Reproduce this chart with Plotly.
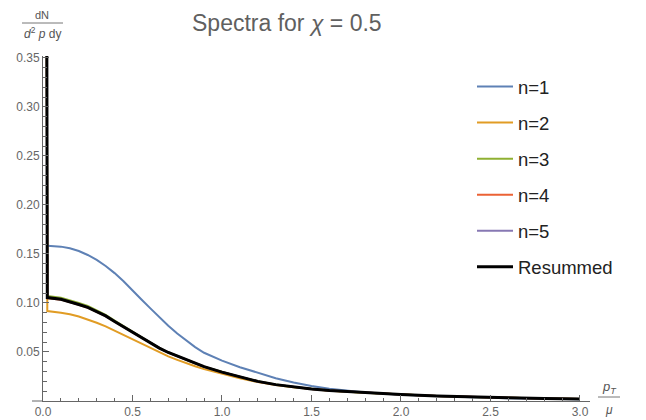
import plotly.graph_objects as go

# ---- data ----
pT = [0.02, 0.024, 0.1, 0.15, 0.2, 0.25, 0.3, 0.35, 0.4, 0.45, 0.5, 0.55, 0.6, 0.65,
      0.7, 0.75, 0.8, 0.85, 0.9, 1.0, 1.1, 1.2, 1.3, 1.4, 1.5, 1.6, 1.8, 2.0,
      2.2, 2.4, 2.6, 2.8, 3.0]

n1 = [None, 0.1585, 0.1575, 0.1558, 0.1530, 0.1490, 0.1440, 0.1378, 0.1305, 0.1222,
      0.1125, 0.1035, 0.0945, 0.0855, 0.0768, 0.0688, 0.0615, 0.0550, 0.0492, 0.0412,
      0.0345, 0.0285, 0.0232, 0.0188, 0.0152, 0.0125, 0.0088, 0.0064, 0.0048, 0.0037,
      0.0029, 0.0023, 0.0019]
n2 = [0.5, 0.0918, 0.0900, 0.0885, 0.0862, 0.0832, 0.0798, 0.0762, 0.0718, 0.0672,
      0.0630, 0.0585, 0.0540, 0.0495, 0.0455, 0.0420, 0.0385, 0.0354, 0.0325, 0.0275,
      0.0232, 0.0193, 0.0162, 0.0139, 0.0120, 0.0104, 0.0083, 0.0066, 0.0051, 0.0040,
      0.0032, 0.0026, 0.0021]
n3 = [0.5, 0.1072, 0.1053, 0.1030, 0.1000, 0.0969, 0.0927, 0.0878, 0.0820, 0.0763,
      0.0704, 0.0651, 0.0594, 0.0541, 0.0496, 0.0457, 0.0421, 0.0385, 0.0351, 0.0296,
      0.0246, 0.0201, 0.0168, 0.0144, 0.0124, 0.0107, 0.0085, 0.0067, 0.0052, 0.0040,
      0.0032, 0.0026, 0.0021]
n4 = [0.5, 0.1050, 0.1034, 0.1011, 0.0982, 0.0952, 0.0912, 0.0865, 0.0810, 0.0755,
      0.0698, 0.0646, 0.0591, 0.0539, 0.0494, 0.0456, 0.0419, 0.0384, 0.0349, 0.0294,
      0.0245, 0.0200, 0.0167, 0.0143, 0.0123, 0.0106, 0.0085, 0.0067, 0.0052, 0.0040,
      0.0032, 0.0026, 0.0021]
n5 = [0.5, 0.1056, 0.1038, 0.1015, 0.0985, 0.0955, 0.0915, 0.0868, 0.0812, 0.0757,
      0.0700, 0.0648, 0.0592, 0.0540, 0.0495, 0.0457, 0.0420, 0.0385, 0.0350, 0.0295,
      0.0245, 0.0200, 0.0167, 0.0143, 0.0123, 0.0106, 0.0085, 0.0067, 0.0052, 0.0040,
      0.0032, 0.0026, 0.0021]
resummed = [0.5, 0.1055, 0.1038, 0.1015, 0.0985, 0.0955, 0.0915, 0.0868, 0.0812, 0.0757,
            0.0700, 0.0648, 0.0592, 0.0540, 0.0495, 0.0457, 0.0420, 0.0385, 0.0350, 0.0295,
            0.0245, 0.0200, 0.0167, 0.0143, 0.0123, 0.0106, 0.0085, 0.0067, 0.0052, 0.0040,
            0.0032, 0.0026, 0.0021]

names = ["n=1", "n=2", "n=3", "n=4", "n=5", "Resummed"]
series = [n1, n2, n3, n4, n5, resummed]
colors = ["#5E81B5", "#E19C24", "#8FB032", "#EB6235", "#8778B3", "#000000"]
widths = [2.0, 2.0, 2.0, 2.0, 2.0, 3.0]

x_ticks = [0.0, 0.5, 1.0, 1.5, 2.0, 2.5, 3.0]
x_ticklabels = ["0.0", "0.5", "1.0", "1.5", "2.0", "2.5", "3.0"]
y_ticks = [0.05, 0.10, 0.15, 0.20, 0.25, 0.30, 0.35]
y_ticklabels = ["0.05", "0.10", "0.15", "0.20", "0.25", "0.30", "0.35"]

fig = go.Figure()
for i, (nm, ys, c, w) in enumerate(zip(names, series, colors, widths)):
    fig.add_trace(go.Scatter(x=pT, y=ys, mode="lines", name=nm,
                             line=dict(color=c, width=w, shape="linear"),
                             legendgroup="g%d" % i))

gray = "#666666"
L, R, T, B = 43, 590, 56, 401
W, H = R - L, B - T


def px(xp):
    return (xp - L) / W


def py(yp):
    return (B - yp) / H


fig.update_layout(
    width=646, height=420,
    margin=dict(l=L, r=646 - R, t=T, b=420 - B, autoexpand=False),
    paper_bgcolor="white", plot_bgcolor="white",
    font=dict(family="Liberation Sans, Arial, sans-serif", color=gray),
    showlegend=True,
    legend=dict(x=px(472), xanchor="left", y=py(68), yanchor="top",
                font=dict(size=18.5, color="#222222"),
                tracegroupgap=9, bgcolor="rgba(0,0,0,0)",
                itemwidth=36),
    xaxis=dict(range=[0, 3.056], showgrid=False, zeroline=False, automargin=False,
               showline=True, linecolor=gray, linewidth=1,
               ticks="inside", ticklen=6, tickcolor=gray,
               tickvals=x_ticks, ticktext=x_ticklabels,
               tickfont=dict(size=12, color=gray),
               minor=dict(dtick=0.1, tick0=0, ticks="inside", ticklen=3.5, tickcolor=gray)),
    yaxis=dict(range=[0, 0.352], showgrid=False, zeroline=False, automargin=False,
               showline=True, linecolor=gray, linewidth=1,
               ticks="inside", ticklen=6, tickcolor=gray,
               tickvals=y_ticks, ticktext=y_ticklabels,
               tickfont=dict(size=12, color=gray),
               minor=dict(dtick=0.01, tick0=0, ticks="inside", ticklen=3.5, tickcolor=gray)),
)

# x-axis extension left of origin (Mathematica-style axes)
fig.add_shape(type="line", xref="paper", yref="paper", x0=px(32), x1=0, y0=0, y1=0,
              line=dict(color=gray, width=1))

# title
fig.add_annotation(xref="paper", yref="paper", x=px(287), y=py(23),
                   text="Spectra for <i>χ</i> = 0.5", showarrow=False,
                   font=dict(size=23, color="#606060"), xanchor="center", yanchor="middle")

# y label fraction
fig.add_annotation(xref="paper", yref="paper", x=px(42), y=py(15), text="dN",
                   showarrow=False, font=dict(size=11, color="#555555"),
                   xanchor="center", yanchor="middle")
fig.add_shape(type="line", xref="paper", yref="paper", x0=px(22), x1=px(63), y0=py(23), y1=py(23),
              line=dict(color="#777777", width=1))
fig.add_annotation(xref="paper", yref="paper", x=px(42), y=py(33),
                   text="<i>d</i><sup>2</sup> <i>p</i> dy",
                   showarrow=False, font=dict(size=12, color="#555555"),
                   xanchor="center", yanchor="middle")

# x label fraction
fig.add_annotation(xref="paper", yref="paper", x=px(609), y=py(387),
                   text="<i>p</i><sub><i>T</i></sub>",
                   showarrow=False, font=dict(size=13, color="#555555"),
                   xanchor="center", yanchor="middle")
fig.add_shape(type="line", xref="paper", yref="paper", x0=px(598), x1=px(620), y0=py(397), y1=py(397),
              line=dict(color="#777777", width=1))
fig.add_annotation(xref="paper", yref="paper", x=px(609), y=py(410),
                   text="<i>μ</i>",
                   showarrow=False, font=dict(size=12, color="#555555"),
                   xanchor="center", yanchor="middle")

fig.write_html("out.html", config={"displayModeBar": False},
               post_script="document.body.style.margin='0';document.body.style.overflow='hidden';")
